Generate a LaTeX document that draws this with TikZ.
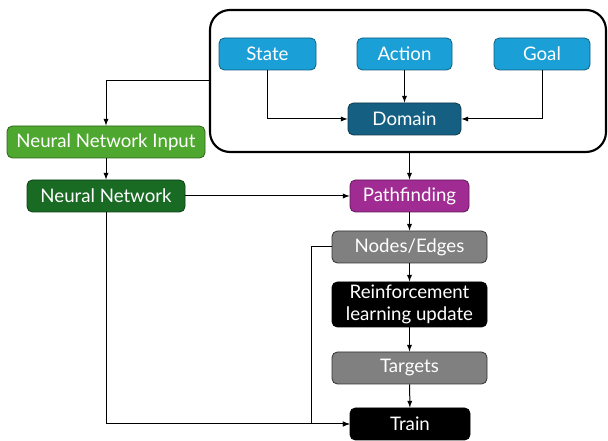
\documentclass[tikz,border=0pt]{standalone}
\usepackage{fontspec}
\setmainfont{Lato}
\usepackage{tikz}

\definecolor{blu}{HTML}{1A9FD6}
\definecolor{dom}{HTML}{156082}
\definecolor{lgreen}{HTML}{4EA72E}
\definecolor{dgreen}{HTML}{196B24}
\definecolor{purp}{HTML}{A02B93}
\definecolor{gry}{HTML}{808080}

\tikzset{
    box/.style={rounded corners=4, minimum height=24pt, inner sep=0pt,
        text=white, font=\fontsize{14}{16.5}\selectfont, line width=0.6pt, align=center},
    frame/.style={draw=black, line width=1.6pt, rounded corners=15, inner sep=0pt},
    conn/.style={->, >=latex, line width=0.75pt}
}

\begin{document}
\begin{tikzpicture}[x=0.75pt, y=-0.75pt]

    \useasboundingbox (0,0) rectangle (608,441);

    \node[frame, minimum width=297pt, minimum height=106.5pt] (box) at (408, 81) {};
    \node[box, fill=blu, draw=blu!60!black, minimum width=72.75pt] (s) at (267.5, 54) {State};
    \node[box, fill=blu, draw=blu!60!black, minimum width=71.25pt] (ac) at (404.5, 54) {Action};
    \node[box, fill=blu, draw=blu!60!black, minimum width=72pt] (g) at (542, 54) {Goal};
    \node[box, fill=dom, draw=dom!60!black, minimum width=84.75pt] (d) at (404.5, 119) {Domain};
    \node[box, fill=lgreen, draw=lgreen!60!black, minimum width=148.5pt] (ni) at (106, 142) {Neural Network Input};
    \node[box, fill=dgreen, draw=dgreen!60!black, minimum width=118.5pt] (nn) at (106, 196) {Neural Network};
    \node[box, fill=purp, draw=purp!60!black, minimum width=89.25pt] (p) at (409.5, 196) {Pathfinding};
    \node[box, fill=gry, draw=black!80, minimum width=116.25pt] (ne) at (409.5, 247) {Nodes/Edges};
    \node[box, fill=black, draw=black, minimum width=116.25pt, minimum height=33.75pt] (rl) at (409.5, 304.5) {Reinforcement\\learning update};
    \node[box, fill=gry, draw=black!80, minimum width=116.25pt] (t) at (409.5, 368) {Targets};
    \node[box, fill=black, draw=black, minimum width=90pt] (tr) at (410, 424) {Train};

    \draw [conn] (s) |- (d);
    \draw [conn] (ac) -- (d);
    \draw [conn] (g) |- (d);
    \draw [conn] (box.west) -| (ni);
    \draw [conn] (ni) -- (nn);
    \draw [conn] (nn) -- (p);
    \draw [conn] (p |- box.south) -- (p);
    \draw [conn] (p) -- (ne);
    \draw [conn] (ne) -- (rl);
    \draw [conn] (rl) -- (t);
    \draw [conn] (t) -- (tr);
    \draw [conn] (ne.west) -- ++(-20, 0) |- (tr);
    \draw [conn] (nn) |- (tr);

\end{tikzpicture}
\end{document}
